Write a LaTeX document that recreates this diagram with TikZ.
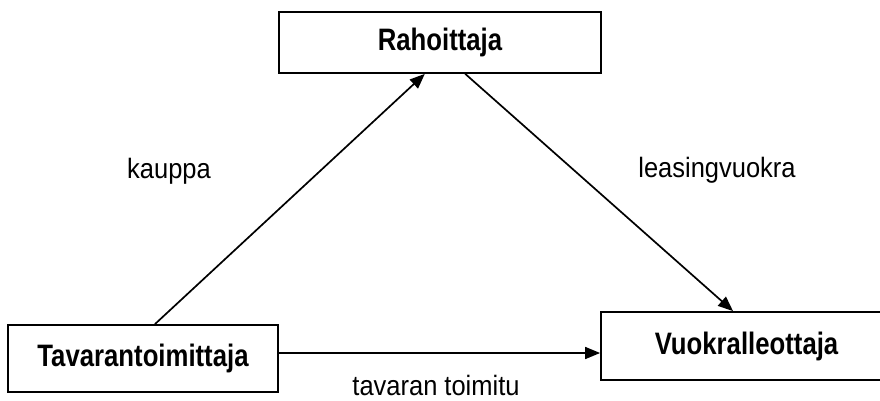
\documentclass[tikz,border=0pt]{standalone}
\usepackage{fontspec}
\setmainfont{Liberation Sans}
\newfontfamily\boxfont[FakeStretch=0.83]{Liberation Sans}
\newfontfamily\labfont[FakeStretch=0.91]{Liberation Sans}
\usetikzlibrary{arrows.meta,calc}
\begin{document}
\begin{tikzpicture}[x=1pt,y=-1pt,
  boxnode/.style={draw,line width=1.8pt,rectangle,inner sep=0pt,
    font=\boxfont\fontsize{31}{31}\bfseries\selectfont},
  conn/.style={line width=1.7pt,-{Triangle[length=15pt,width=12pt]}},
  lab/.style={inner sep=0pt,anchor=base,font=\labfont\fontsize{28}{28}\selectfont}]
\useasboundingbox (0,0) rectangle (880,400);
\clip (0,0) rectangle (880,400);
\node[boxnode,minimum width=322pt,minimum height=61pt] (raho) at (440,42.5) {Rahoittaja};
\node[boxnode,minimum width=270pt,minimum height=67pt] (tav) at (143,358.5) {Tavarantoimittaja};
\node[boxnode,minimum width=291pt,minimum height=68pt] (vuok) at (746.5,346) {Vuokralleottaja};
\coordinate (hy) at (0,353);
\draw[conn] ($(tav.north west)!0.544!(tav.north east)$) -- ($(raho.south west)!0.453!(raho.south east)$);
\draw[conn] ($(raho.south west)!0.578!(raho.south east)$) -- ($(vuok.north west)!0.454!(vuok.north east)$);
\draw[conn] (tav.east |- hy) -- (vuok.west |- hy);
\node[lab] (l1) at (169,178) {kauppa};
\node[lab] (l2) at (717,177) {leasingvuokra};
\node[lab] (l3) at (436,395) {tavaran toimitu};
\end{tikzpicture}
\end{document}
